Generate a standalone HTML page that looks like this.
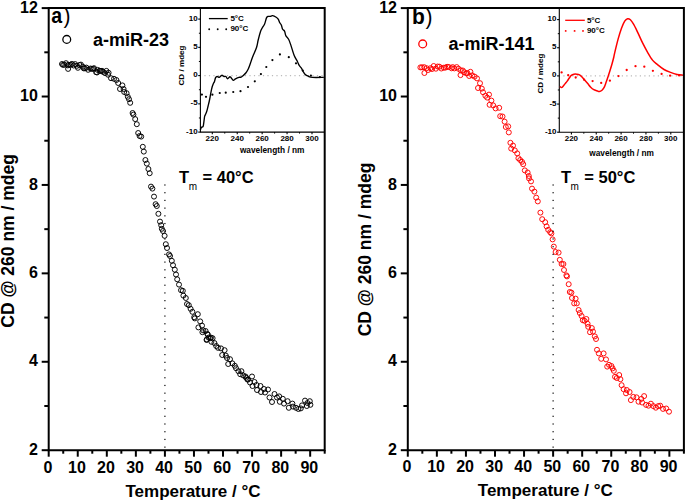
<!DOCTYPE html>
<html><head><meta charset="utf-8"><style>
html,body{margin:0;padding:0;background:#fff;}
svg{display:block;font-family:"Liberation Sans", sans-serif;}
</style></head><body>
<svg width="685" height="500" viewBox="0 0 685 500">
<rect width="685" height="500" fill="#fff"/>
<g fill="none" stroke="#000" stroke-width="0.95">
<circle cx="62.0" cy="64.0" r="2.5"/>
<circle cx="63.0" cy="64.9" r="2.5"/>
<circle cx="64.3" cy="64.7" r="2.5"/>
<circle cx="66.0" cy="63.2" r="2.5"/>
<circle cx="67.8" cy="65.4" r="2.5"/>
<circle cx="68.8" cy="64.8" r="2.5"/>
<circle cx="70.7" cy="64.8" r="2.5"/>
<circle cx="71.9" cy="63.9" r="2.5"/>
<circle cx="73.7" cy="65.5" r="2.5"/>
<circle cx="75.1" cy="64.1" r="2.5"/>
<circle cx="77.0" cy="65.8" r="2.5"/>
<circle cx="77.9" cy="67.8" r="2.5"/>
<circle cx="79.5" cy="65.0" r="2.5"/>
<circle cx="80.9" cy="64.6" r="2.5"/>
<circle cx="82.8" cy="66.7" r="2.5"/>
<circle cx="83.8" cy="68.4" r="2.5"/>
<circle cx="85.0" cy="68.3" r="2.5"/>
<circle cx="86.4" cy="67.6" r="2.5"/>
<circle cx="88.1" cy="69.8" r="2.5"/>
<circle cx="90.5" cy="68.5" r="2.5"/>
<circle cx="91.8" cy="68.9" r="2.5"/>
<circle cx="93.2" cy="68.8" r="2.5"/>
<circle cx="94.0" cy="68.2" r="2.5"/>
<circle cx="96.1" cy="72.2" r="2.5"/>
<circle cx="97.6" cy="69.9" r="2.5"/>
<circle cx="99.6" cy="70.7" r="2.5"/>
<circle cx="100.5" cy="71.0" r="2.5"/>
<circle cx="102.0" cy="70.8" r="2.5"/>
<circle cx="103.1" cy="71.9" r="2.5"/>
<circle cx="105.0" cy="73.1" r="2.5"/>
<circle cx="106.4" cy="70.9" r="2.5"/>
<circle cx="108.0" cy="74.7" r="2.5"/>
<circle cx="68.1" cy="68.9" r="2.5"/>
<circle cx="97.0" cy="72.5" r="2.5"/>
<circle cx="108.6" cy="72.8" r="2.5"/>
<circle cx="111.0" cy="78.2" r="2.5"/>
<circle cx="114.0" cy="78.8" r="2.5"/>
<circle cx="116.4" cy="80.0" r="2.5"/>
<circle cx="118.2" cy="83.0" r="2.5"/>
<circle cx="120.0" cy="89.0" r="2.5"/>
<circle cx="122.4" cy="85.4" r="2.5"/>
<circle cx="123.6" cy="89.0" r="2.5"/>
<circle cx="124.2" cy="92.0" r="2.5"/>
<circle cx="126.6" cy="93.2" r="2.5"/>
<circle cx="127.8" cy="96.8" r="2.5"/>
<circle cx="129.0" cy="99.2" r="2.5"/>
<circle cx="130.2" cy="102.8" r="2.5"/>
<circle cx="132.6" cy="113.0" r="2.5"/>
<circle cx="133.4" cy="114.6" r="2.5"/>
<circle cx="135.2" cy="119.1" r="2.5"/>
<circle cx="136.8" cy="124.2" r="2.5"/>
<circle cx="138.2" cy="133.0" r="2.5"/>
<circle cx="139.6" cy="136.0" r="2.5"/>
<circle cx="141.2" cy="136.6" r="2.5"/>
<circle cx="142.8" cy="146.8" r="2.5"/>
<circle cx="143.8" cy="151.6" r="2.5"/>
<circle cx="145.4" cy="160.0" r="2.5"/>
<circle cx="146.8" cy="163.6" r="2.5"/>
<circle cx="148.4" cy="169.0" r="2.5"/>
<circle cx="149.7" cy="173.2" r="2.5"/>
<circle cx="151.0" cy="186.6" r="2.5"/>
<circle cx="152.4" cy="188.6" r="2.5"/>
<circle cx="154.0" cy="196.6" r="2.5"/>
<circle cx="155.6" cy="204.2" r="2.5"/>
<circle cx="156.8" cy="206.0" r="2.5"/>
<circle cx="158.4" cy="213.8" r="2.5"/>
<circle cx="160.0" cy="221.6" r="2.5"/>
<circle cx="161.2" cy="225.2" r="2.5"/>
<circle cx="161.8" cy="228.8" r="2.5"/>
<circle cx="163.0" cy="231.0" r="2.5"/>
<circle cx="164.6" cy="235.8" r="2.5"/>
<circle cx="165.8" cy="244.2" r="2.5"/>
<circle cx="167.0" cy="248.0" r="2.5"/>
<circle cx="169.0" cy="254.4" r="2.5"/>
<circle cx="170.0" cy="256.0" r="2.5"/>
<circle cx="171.8" cy="260.8" r="2.5"/>
<circle cx="173.0" cy="265.2" r="2.5"/>
<circle cx="174.8" cy="269.7" r="2.5"/>
<circle cx="176.0" cy="274.5" r="2.5"/>
<circle cx="177.2" cy="279.3" r="2.5"/>
<circle cx="179.0" cy="284.6" r="2.5"/>
<circle cx="181.0" cy="290.2" r="2.5"/>
<circle cx="182.8" cy="290.8" r="2.5"/>
<circle cx="183.4" cy="295.6" r="2.5"/>
<circle cx="185.8" cy="298.0" r="2.5"/>
<circle cx="187.0" cy="304.0" r="2.5"/>
<circle cx="188.8" cy="305.2" r="2.5"/>
<circle cx="190.6" cy="308.8" r="2.5"/>
<circle cx="192.4" cy="311.8" r="2.5"/>
<circle cx="194.2" cy="317.2" r="2.5"/>
<circle cx="197.8" cy="314.2" r="2.5"/>
<circle cx="194.8" cy="318.4" r="2.5"/>
<circle cx="200.2" cy="321.4" r="2.5"/>
<circle cx="198.4" cy="327.4" r="2.5"/>
<circle cx="202.0" cy="325.6" r="2.5"/>
<circle cx="203.2" cy="330.4" r="2.5"/>
<circle cx="205.6" cy="331.0" r="2.5"/>
<circle cx="207.4" cy="334.0" r="2.5"/>
<circle cx="208.6" cy="337.6" r="2.5"/>
<circle cx="211.0" cy="337.6" r="2.5"/>
<circle cx="206.8" cy="339.4" r="2.5"/>
<circle cx="202.4" cy="332.2" r="2.5"/>
<circle cx="207.8" cy="334.6" r="2.5"/>
<circle cx="206.6" cy="340.0" r="2.5"/>
<circle cx="210.2" cy="338.2" r="2.5"/>
<circle cx="212.6" cy="338.2" r="2.5"/>
<circle cx="211.4" cy="341.8" r="2.5"/>
<circle cx="214.4" cy="343.0" r="2.5"/>
<circle cx="216.2" cy="346.0" r="2.5"/>
<circle cx="218.0" cy="347.8" r="2.5"/>
<circle cx="221.0" cy="348.4" r="2.5"/>
<circle cx="224.6" cy="350.2" r="2.5"/>
<circle cx="222.2" cy="355.0" r="2.5"/>
<circle cx="225.8" cy="355.6" r="2.5"/>
<circle cx="227.0" cy="358.0" r="2.5"/>
<circle cx="230.0" cy="359.2" r="2.5"/>
<circle cx="228.2" cy="364.0" r="2.5"/>
<circle cx="232.4" cy="363.4" r="2.5"/>
<circle cx="234.8" cy="365.8" r="2.5"/>
<circle cx="236.0" cy="368.2" r="2.5"/>
<circle cx="238.4" cy="371.2" r="2.5"/>
<circle cx="241.4" cy="371.2" r="2.5"/>
<circle cx="240.2" cy="374.2" r="2.5"/>
<circle cx="243.2" cy="375.4" r="2.5"/>
<circle cx="246.2" cy="377.8" r="2.5"/>
<circle cx="248.0" cy="379.6" r="2.5"/>
<circle cx="245.5" cy="376.5" r="2.5"/>
<circle cx="252.0" cy="376.5" r="2.5"/>
<circle cx="247.5" cy="379.5" r="2.5"/>
<circle cx="250.0" cy="382.5" r="2.5"/>
<circle cx="254.5" cy="382.0" r="2.5"/>
<circle cx="252.5" cy="386.0" r="2.5"/>
<circle cx="256.5" cy="385.0" r="2.5"/>
<circle cx="260.5" cy="386.0" r="2.5"/>
<circle cx="257.0" cy="390.0" r="2.5"/>
<circle cx="261.0" cy="392.0" r="2.5"/>
<circle cx="264.0" cy="389.0" r="2.5"/>
<circle cx="268.0" cy="389.5" r="2.5"/>
<circle cx="265.0" cy="392.5" r="2.5"/>
<circle cx="269.5" cy="397.5" r="2.5"/>
<circle cx="274.5" cy="394.0" r="2.5"/>
<circle cx="272.0" cy="402.0" r="2.5"/>
<circle cx="277.0" cy="397.5" r="2.5"/>
<circle cx="279.2" cy="396.4" r="2.5"/>
<circle cx="279.8" cy="401.8" r="2.5"/>
<circle cx="282.8" cy="398.8" r="2.5"/>
<circle cx="284.0" cy="403.6" r="2.5"/>
<circle cx="287.6" cy="401.2" r="2.5"/>
<circle cx="288.8" cy="407.8" r="2.5"/>
<circle cx="292.4" cy="403.6" r="2.5"/>
<circle cx="293.0" cy="406.6" r="2.5"/>
<circle cx="296.0" cy="407.8" r="2.5"/>
<circle cx="298.4" cy="409.0" r="2.5"/>
<circle cx="300.8" cy="408.4" r="2.5"/>
<circle cx="302.0" cy="405.4" r="2.5"/>
<circle cx="305.0" cy="400.6" r="2.5"/>
<circle cx="307.4" cy="403.0" r="2.5"/>
<circle cx="309.8" cy="401.2" r="2.5"/>
<circle cx="310.4" cy="404.8" r="2.5"/>
<circle cx="306.8" cy="406.0" r="2.5"/>
</g>
<g fill="none" stroke="#f00" stroke-width="0.95">
<circle cx="420.4" cy="67.4" r="2.5"/>
<circle cx="422.0" cy="67.3" r="2.5"/>
<circle cx="424.2" cy="67.2" r="2.5"/>
<circle cx="426.6" cy="68.2" r="2.5"/>
<circle cx="428.1" cy="70.0" r="2.5"/>
<circle cx="430.5" cy="68.2" r="2.5"/>
<circle cx="432.0" cy="69.0" r="2.5"/>
<circle cx="433.7" cy="66.0" r="2.5"/>
<circle cx="435.9" cy="68.7" r="2.5"/>
<circle cx="437.7" cy="66.5" r="2.5"/>
<circle cx="439.4" cy="66.7" r="2.5"/>
<circle cx="441.3" cy="68.5" r="2.5"/>
<circle cx="443.8" cy="67.7" r="2.5"/>
<circle cx="445.4" cy="67.6" r="2.5"/>
<circle cx="447.1" cy="66.8" r="2.5"/>
<circle cx="448.8" cy="67.0" r="2.5"/>
<circle cx="451.6" cy="68.3" r="2.5"/>
<circle cx="452.7" cy="67.1" r="2.5"/>
<circle cx="454.4" cy="68.4" r="2.5"/>
<circle cx="456.7" cy="67.1" r="2.5"/>
<circle cx="458.6" cy="68.8" r="2.5"/>
<circle cx="460.8" cy="70.4" r="2.5"/>
<circle cx="462.8" cy="70.5" r="2.5"/>
<circle cx="464.1" cy="72.2" r="2.5"/>
<circle cx="466.4" cy="73.4" r="2.5"/>
<circle cx="424.4" cy="73.0" r="2.5"/>
<circle cx="460.5" cy="75.1" r="2.5"/>
<circle cx="467.4" cy="73.0" r="2.5"/>
<circle cx="470.4" cy="71.8" r="2.5"/>
<circle cx="469.2" cy="76.0" r="2.5"/>
<circle cx="472.2" cy="75.4" r="2.5"/>
<circle cx="474.6" cy="76.6" r="2.5"/>
<circle cx="477.0" cy="78.4" r="2.5"/>
<circle cx="480.0" cy="83.2" r="2.5"/>
<circle cx="478.0" cy="88.0" r="2.5"/>
<circle cx="481.8" cy="88.6" r="2.5"/>
<circle cx="483.0" cy="92.2" r="2.5"/>
<circle cx="485.4" cy="95.8" r="2.5"/>
<circle cx="489.0" cy="94.6" r="2.5"/>
<circle cx="487.2" cy="97.6" r="2.5"/>
<circle cx="491.4" cy="100.6" r="2.5"/>
<circle cx="489.6" cy="104.8" r="2.5"/>
<circle cx="493.2" cy="105.4" r="2.5"/>
<circle cx="495.6" cy="108.4" r="2.5"/>
<circle cx="499.2" cy="107.8" r="2.5"/>
<circle cx="500.2" cy="116.2" r="2.5"/>
<circle cx="502.5" cy="116.5" r="2.5"/>
<circle cx="504.6" cy="121.6" r="2.5"/>
<circle cx="505.8" cy="127.0" r="2.5"/>
<circle cx="508.2" cy="126.4" r="2.5"/>
<circle cx="508.8" cy="132.4" r="2.5"/>
<circle cx="510.4" cy="142.8" r="2.5"/>
<circle cx="513.0" cy="145.6" r="2.5"/>
<circle cx="511.2" cy="148.6" r="2.5"/>
<circle cx="514.8" cy="150.4" r="2.5"/>
<circle cx="517.2" cy="153.4" r="2.5"/>
<circle cx="518.4" cy="158.2" r="2.5"/>
<circle cx="520.2" cy="160.0" r="2.5"/>
<circle cx="522.0" cy="161.8" r="2.5"/>
<circle cx="523.2" cy="164.2" r="2.5"/>
<circle cx="524.8" cy="170.4" r="2.5"/>
<circle cx="527.6" cy="172.5" r="2.5"/>
<circle cx="528.8" cy="176.0" r="2.5"/>
<circle cx="529.0" cy="178.4" r="2.5"/>
<circle cx="531.0" cy="181.4" r="2.5"/>
<circle cx="532.0" cy="188.6" r="2.5"/>
<circle cx="534.4" cy="191.6" r="2.5"/>
<circle cx="536.2" cy="197.6" r="2.5"/>
<circle cx="537.8" cy="201.4" r="2.5"/>
<circle cx="540.4" cy="212.6" r="2.5"/>
<circle cx="542.2" cy="219.2" r="2.5"/>
<circle cx="545.2" cy="222.2" r="2.5"/>
<circle cx="546.6" cy="226.4" r="2.5"/>
<circle cx="548.2" cy="229.8" r="2.5"/>
<circle cx="550.2" cy="232.2" r="2.5"/>
<circle cx="551.4" cy="233.4" r="2.5"/>
<circle cx="552.6" cy="239.4" r="2.5"/>
<circle cx="553.8" cy="246.6" r="2.5"/>
<circle cx="555.6" cy="252.0" r="2.5"/>
<circle cx="558.6" cy="252.6" r="2.5"/>
<circle cx="559.8" cy="259.8" r="2.5"/>
<circle cx="561.6" cy="264.0" r="2.5"/>
<circle cx="563.4" cy="264.0" r="2.5"/>
<circle cx="564.0" cy="270.0" r="2.5"/>
<circle cx="566.4" cy="275.4" r="2.5"/>
<circle cx="567.0" cy="276.4" r="2.5"/>
<circle cx="568.7" cy="284.2" r="2.5"/>
<circle cx="569.8" cy="292.0" r="2.5"/>
<circle cx="571.4" cy="292.6" r="2.5"/>
<circle cx="572.0" cy="298.0" r="2.5"/>
<circle cx="575.6" cy="298.6" r="2.5"/>
<circle cx="574.2" cy="303.4" r="2.5"/>
<circle cx="576.8" cy="303.4" r="2.5"/>
<circle cx="578.6" cy="310.0" r="2.5"/>
<circle cx="579.8" cy="313.0" r="2.5"/>
<circle cx="581.6" cy="316.0" r="2.5"/>
<circle cx="582.8" cy="320.2" r="2.5"/>
<circle cx="586.4" cy="319.0" r="2.5"/>
<circle cx="584.6" cy="320.8" r="2.5"/>
<circle cx="587.6" cy="323.8" r="2.5"/>
<circle cx="588.2" cy="326.8" r="2.5"/>
<circle cx="591.8" cy="328.0" r="2.5"/>
<circle cx="590.0" cy="332.2" r="2.5"/>
<circle cx="593.0" cy="331.6" r="2.5"/>
<circle cx="594.8" cy="336.4" r="2.5"/>
<circle cx="596.0" cy="339.0" r="2.5"/>
<circle cx="597.0" cy="349.8" r="2.5"/>
<circle cx="598.8" cy="353.4" r="2.5"/>
<circle cx="603.6" cy="353.4" r="2.5"/>
<circle cx="601.2" cy="358.8" r="2.5"/>
<circle cx="606.0" cy="359.4" r="2.5"/>
<circle cx="607.2" cy="366.6" r="2.5"/>
<circle cx="609.0" cy="364.8" r="2.5"/>
<circle cx="611.4" cy="366.0" r="2.5"/>
<circle cx="612.6" cy="368.4" r="2.5"/>
<circle cx="613.8" cy="370.8" r="2.5"/>
<circle cx="615.0" cy="376.8" r="2.5"/>
<circle cx="616.8" cy="378.0" r="2.5"/>
<circle cx="619.2" cy="375.0" r="2.5"/>
<circle cx="620.4" cy="379.2" r="2.5"/>
<circle cx="621.6" cy="385.2" r="2.5"/>
<circle cx="623.6" cy="389.2" r="2.5"/>
<circle cx="626.8" cy="390.0" r="2.5"/>
<circle cx="626.0" cy="393.3" r="2.5"/>
<circle cx="629.6" cy="392.0" r="2.5"/>
<circle cx="630.9" cy="400.1" r="2.5"/>
<circle cx="633.3" cy="396.9" r="2.5"/>
<circle cx="636.5" cy="397.3" r="2.5"/>
<circle cx="638.5" cy="401.7" r="2.5"/>
<circle cx="641.3" cy="398.9" r="2.5"/>
<circle cx="644.1" cy="396.1" r="2.5"/>
<circle cx="642.1" cy="402.5" r="2.5"/>
<circle cx="646.1" cy="404.9" r="2.5"/>
<circle cx="648.5" cy="405.7" r="2.5"/>
<circle cx="650.9" cy="403.7" r="2.5"/>
<circle cx="653.3" cy="406.1" r="2.5"/>
<circle cx="655.8" cy="407.7" r="2.5"/>
<circle cx="658.2" cy="406.1" r="2.5"/>
<circle cx="660.2" cy="405.7" r="2.5"/>
<circle cx="663.0" cy="408.9" r="2.5"/>
<circle cx="666.2" cy="408.5" r="2.5"/>
<circle cx="669.0" cy="411.7" r="2.5"/>
</g>
<g fill="#000">
<rect x="164.31" y="184.40" width="1.2" height="1.2"/>
<rect x="164.31" y="192.11" width="1.2" height="1.2"/>
<rect x="164.31" y="199.82" width="1.2" height="1.2"/>
<rect x="164.31" y="207.53" width="1.2" height="1.2"/>
<rect x="164.31" y="215.24" width="1.2" height="1.2"/>
<rect x="164.31" y="222.95" width="1.2" height="1.2"/>
<rect x="164.31" y="230.66" width="1.2" height="1.2"/>
<rect x="164.31" y="238.37" width="1.2" height="1.2"/>
<rect x="164.31" y="246.08" width="1.2" height="1.2"/>
<rect x="164.31" y="253.79" width="1.2" height="1.2"/>
<rect x="164.31" y="261.50" width="1.2" height="1.2"/>
<rect x="164.31" y="269.21" width="1.2" height="1.2"/>
<rect x="164.31" y="276.92" width="1.2" height="1.2"/>
<rect x="164.31" y="284.63" width="1.2" height="1.2"/>
<rect x="164.31" y="292.34" width="1.2" height="1.2"/>
<rect x="164.31" y="300.05" width="1.2" height="1.2"/>
<rect x="164.31" y="307.76" width="1.2" height="1.2"/>
<rect x="164.31" y="315.47" width="1.2" height="1.2"/>
<rect x="164.31" y="323.18" width="1.2" height="1.2"/>
<rect x="164.31" y="330.89" width="1.2" height="1.2"/>
<rect x="164.31" y="338.60" width="1.2" height="1.2"/>
<rect x="164.31" y="346.31" width="1.2" height="1.2"/>
<rect x="164.31" y="354.02" width="1.2" height="1.2"/>
<rect x="164.31" y="361.73" width="1.2" height="1.2"/>
<rect x="164.31" y="369.44" width="1.2" height="1.2"/>
<rect x="164.31" y="377.15" width="1.2" height="1.2"/>
<rect x="164.31" y="384.86" width="1.2" height="1.2"/>
<rect x="164.31" y="392.57" width="1.2" height="1.2"/>
<rect x="164.31" y="400.28" width="1.2" height="1.2"/>
<rect x="164.31" y="407.99" width="1.2" height="1.2"/>
<rect x="164.31" y="415.70" width="1.2" height="1.2"/>
<rect x="164.31" y="423.41" width="1.2" height="1.2"/>
<rect x="164.31" y="431.12" width="1.2" height="1.2"/>
<rect x="164.31" y="438.83" width="1.2" height="1.2"/>
<rect x="164.31" y="446.54" width="1.2" height="1.2"/>
</g>
<g fill="#000">
<rect x="552.52" y="184.40" width="1.2" height="1.2"/>
<rect x="552.52" y="192.11" width="1.2" height="1.2"/>
<rect x="552.52" y="199.82" width="1.2" height="1.2"/>
<rect x="552.52" y="207.53" width="1.2" height="1.2"/>
<rect x="552.52" y="215.24" width="1.2" height="1.2"/>
<rect x="552.52" y="222.95" width="1.2" height="1.2"/>
<rect x="552.52" y="230.66" width="1.2" height="1.2"/>
<rect x="552.52" y="238.37" width="1.2" height="1.2"/>
<rect x="552.52" y="246.08" width="1.2" height="1.2"/>
<rect x="552.52" y="253.79" width="1.2" height="1.2"/>
<rect x="552.52" y="261.50" width="1.2" height="1.2"/>
<rect x="552.52" y="269.21" width="1.2" height="1.2"/>
<rect x="552.52" y="276.92" width="1.2" height="1.2"/>
<rect x="552.52" y="284.63" width="1.2" height="1.2"/>
<rect x="552.52" y="292.34" width="1.2" height="1.2"/>
<rect x="552.52" y="300.05" width="1.2" height="1.2"/>
<rect x="552.52" y="307.76" width="1.2" height="1.2"/>
<rect x="552.52" y="315.47" width="1.2" height="1.2"/>
<rect x="552.52" y="323.18" width="1.2" height="1.2"/>
<rect x="552.52" y="330.89" width="1.2" height="1.2"/>
<rect x="552.52" y="338.60" width="1.2" height="1.2"/>
<rect x="552.52" y="346.31" width="1.2" height="1.2"/>
<rect x="552.52" y="354.02" width="1.2" height="1.2"/>
<rect x="552.52" y="361.73" width="1.2" height="1.2"/>
<rect x="552.52" y="369.44" width="1.2" height="1.2"/>
<rect x="552.52" y="377.15" width="1.2" height="1.2"/>
<rect x="552.52" y="384.86" width="1.2" height="1.2"/>
<rect x="552.52" y="392.57" width="1.2" height="1.2"/>
<rect x="552.52" y="400.28" width="1.2" height="1.2"/>
<rect x="552.52" y="407.99" width="1.2" height="1.2"/>
<rect x="552.52" y="415.70" width="1.2" height="1.2"/>
<rect x="552.52" y="423.41" width="1.2" height="1.2"/>
<rect x="552.52" y="431.12" width="1.2" height="1.2"/>
<rect x="552.52" y="438.83" width="1.2" height="1.2"/>
<rect x="552.52" y="446.54" width="1.2" height="1.2"/>
</g>
<rect x="200.4" y="8.1" width="123.6" height="124" fill="#fff"/>
<line x1="204.4" y1="75.6" x2="324" y2="75.6" stroke="#bbb" stroke-width="1.1" stroke-dasharray="1.2 3.3"/>
<path d="M200.4 8.1V132.1H324" fill="none" stroke="#000" stroke-width="1.1"/>
<line x1="198.2" y1="132.1" x2="200.4" y2="132.1" stroke="#000" stroke-width="1.1" />
<text x="197.6" y="133.6" font-size="8" font-weight="bold" text-anchor="end" fill="#000" >-10</text>
<line x1="198.2" y1="103.85" x2="200.4" y2="103.85" stroke="#000" stroke-width="1.1" />
<text x="197.6" y="105.35" font-size="8" font-weight="bold" text-anchor="end" fill="#000" >-5</text>
<line x1="198.2" y1="75.6" x2="200.4" y2="75.6" stroke="#000" stroke-width="1.1" />
<text x="197.6" y="77.1" font-size="8" font-weight="bold" text-anchor="end" fill="#000" >0</text>
<line x1="198.2" y1="47.35" x2="200.4" y2="47.35" stroke="#000" stroke-width="1.1" />
<text x="197.6" y="48.85" font-size="8" font-weight="bold" text-anchor="end" fill="#000" >5</text>
<line x1="198.2" y1="19.1" x2="200.4" y2="19.1" stroke="#000" stroke-width="1.1" />
<text x="197.6" y="20.6" font-size="8" font-weight="bold" text-anchor="end" fill="#000" >10</text>
<line x1="198.9" y1="117.97" x2="200.4" y2="117.97" stroke="#000" stroke-width="1" />
<line x1="198.9" y1="89.72" x2="200.4" y2="89.72" stroke="#000" stroke-width="1" />
<line x1="198.9" y1="61.47" x2="200.4" y2="61.47" stroke="#000" stroke-width="1" />
<line x1="198.9" y1="33.22" x2="200.4" y2="33.22" stroke="#000" stroke-width="1" />
<line x1="212.3" y1="132.1" x2="212.3" y2="134.3" stroke="#000" stroke-width="1.1" />
<text x="212.3" y="140.8" font-size="8" font-weight="bold" text-anchor="middle" fill="#000" >220</text>
<line x1="237.23" y1="132.1" x2="237.23" y2="134.3" stroke="#000" stroke-width="1.1" />
<text x="237.23" y="140.8" font-size="8" font-weight="bold" text-anchor="middle" fill="#000" >240</text>
<line x1="262.15" y1="132.1" x2="262.15" y2="134.3" stroke="#000" stroke-width="1.1" />
<text x="262.15" y="140.8" font-size="8" font-weight="bold" text-anchor="middle" fill="#000" >260</text>
<line x1="287.07" y1="132.1" x2="287.07" y2="134.3" stroke="#000" stroke-width="1.1" />
<text x="287.07" y="140.8" font-size="8" font-weight="bold" text-anchor="middle" fill="#000" >280</text>
<line x1="312" y1="132.1" x2="312" y2="134.3" stroke="#000" stroke-width="1.1" />
<text x="312" y="140.8" font-size="8" font-weight="bold" text-anchor="middle" fill="#000" >300</text>
<line x1="224.76" y1="132.1" x2="224.76" y2="133.6" stroke="#000" stroke-width="1" />
<line x1="249.69" y1="132.1" x2="249.69" y2="133.6" stroke="#000" stroke-width="1" />
<line x1="274.61" y1="132.1" x2="274.61" y2="133.6" stroke="#000" stroke-width="1" />
<line x1="299.54" y1="132.1" x2="299.54" y2="133.6" stroke="#000" stroke-width="1" />
<line x1="208.9" y1="18.6" x2="227.7" y2="18.6" stroke="#000" stroke-width="1.3" />
<text x="230.4" y="21" font-size="8" font-weight="bold" text-anchor="start" fill="#000" >5°C</text>
<text x="230.4" y="31.3" font-size="8" font-weight="bold" text-anchor="start" fill="#000" >90°C</text>
<circle cx="209.2" cy="29.3" r="0.95" fill="#000"/>
<circle cx="217.7" cy="29.3" r="0.95" fill="#000"/>
<circle cx="226.2" cy="29.3" r="0.95" fill="#000"/>
<text transform="translate(184.1,85.5) rotate(-90)" font-size="8.1" font-weight="bold">CD / mdeg</text>
<text x="239.9" y="152.5" font-size="8.3" font-weight="bold" text-anchor="start" fill="#000" >wavelength / nm</text>
<rect x="559.3" y="8.1" width="123.7" height="124.1" fill="#fff"/>
<line x1="563.3" y1="75.9" x2="683" y2="75.9" stroke="#bbb" stroke-width="1.1" stroke-dasharray="1.2 3.3"/>
<path d="M559.3 8.1V132.2H683" fill="none" stroke="#000" stroke-width="1.1"/>
<line x1="557.1" y1="132.2" x2="559.3" y2="132.2" stroke="#000" stroke-width="1.1" />
<text x="556.5" y="133.7" font-size="8" font-weight="bold" text-anchor="end" fill="#000" >-10</text>
<line x1="557.1" y1="104.05" x2="559.3" y2="104.05" stroke="#000" stroke-width="1.1" />
<text x="556.5" y="105.55" font-size="8" font-weight="bold" text-anchor="end" fill="#000" >-5</text>
<line x1="557.1" y1="75.9" x2="559.3" y2="75.9" stroke="#000" stroke-width="1.1" />
<text x="556.5" y="77.4" font-size="8" font-weight="bold" text-anchor="end" fill="#000" >0</text>
<line x1="557.1" y1="47.75" x2="559.3" y2="47.75" stroke="#000" stroke-width="1.1" />
<text x="556.5" y="49.25" font-size="8" font-weight="bold" text-anchor="end" fill="#000" >5</text>
<line x1="557.1" y1="19.6" x2="559.3" y2="19.6" stroke="#000" stroke-width="1.1" />
<text x="556.5" y="21.1" font-size="8" font-weight="bold" text-anchor="end" fill="#000" >10</text>
<line x1="557.8" y1="118.12" x2="559.3" y2="118.12" stroke="#000" stroke-width="1" />
<line x1="557.8" y1="89.97" x2="559.3" y2="89.97" stroke="#000" stroke-width="1" />
<line x1="557.8" y1="61.83" x2="559.3" y2="61.83" stroke="#000" stroke-width="1" />
<line x1="557.8" y1="33.68" x2="559.3" y2="33.68" stroke="#000" stroke-width="1" />
<line x1="571.4" y1="132.2" x2="571.4" y2="134.4" stroke="#000" stroke-width="1.1" />
<text x="571.4" y="141" font-size="8" font-weight="bold" text-anchor="middle" fill="#000" >220</text>
<line x1="596.25" y1="132.2" x2="596.25" y2="134.4" stroke="#000" stroke-width="1.1" />
<text x="596.25" y="141" font-size="8" font-weight="bold" text-anchor="middle" fill="#000" >240</text>
<line x1="621.1" y1="132.2" x2="621.1" y2="134.4" stroke="#000" stroke-width="1.1" />
<text x="621.1" y="141" font-size="8" font-weight="bold" text-anchor="middle" fill="#000" >260</text>
<line x1="645.95" y1="132.2" x2="645.95" y2="134.4" stroke="#000" stroke-width="1.1" />
<text x="645.95" y="141" font-size="8" font-weight="bold" text-anchor="middle" fill="#000" >280</text>
<line x1="670.8" y1="132.2" x2="670.8" y2="134.4" stroke="#000" stroke-width="1.1" />
<text x="670.8" y="141" font-size="8" font-weight="bold" text-anchor="middle" fill="#000" >300</text>
<line x1="583.82" y1="132.2" x2="583.82" y2="133.7" stroke="#000" stroke-width="1" />
<line x1="608.67" y1="132.2" x2="608.67" y2="133.7" stroke="#000" stroke-width="1" />
<line x1="633.52" y1="132.2" x2="633.52" y2="133.7" stroke="#000" stroke-width="1" />
<line x1="658.38" y1="132.2" x2="658.38" y2="133.7" stroke="#000" stroke-width="1" />
<line x1="565.2" y1="20.3" x2="584.8" y2="20.3" stroke="#f00" stroke-width="1.3" />
<text x="586.9" y="22.6" font-size="8" font-weight="bold" text-anchor="start" fill="#000" >5°C</text>
<text x="586.9" y="33" font-size="8" font-weight="bold" text-anchor="start" fill="#000" >90°C</text>
<circle cx="565.7" cy="30.9" r="0.95" fill="#f00"/>
<circle cx="574.6" cy="30.9" r="0.95" fill="#f00"/>
<circle cx="583" cy="30.9" r="0.95" fill="#f00"/>
<text transform="translate(542.5,93.6) rotate(-90)" font-size="8.1" font-weight="bold">CD / mdeg</text>
<text x="589.3" y="155.8" font-size="8.3" font-weight="bold" text-anchor="start" fill="#000" >wavelength / nm</text>
<path d="M200.3 130.2C200.48 129.72 200.95 127.88 201.4 127.3C201.85 126.72 202.63 127.27 203 126.7C203.37 126.13 203.4 125.12 203.6 123.9C203.8 122.68 204.02 120.7 204.2 119.4C204.38 118.1 204.43 117.03 204.7 116.1C204.97 115.17 205.42 114.73 205.8 113.8C206.18 112.87 206.62 111.8 207 110.5C207.38 109.2 207.73 107.5 208.1 106C208.47 104.5 208.87 103 209.2 101.5C209.53 100 209.82 98.48 210.1 97C210.38 95.52 210.58 94.18 210.9 92.6C211.22 91.02 211.6 88.97 212 87.5C212.4 86.03 212.88 84.82 213.3 83.8C213.72 82.78 214.12 82.43 214.5 81.4C214.88 80.37 215.17 78.42 215.6 77.6C216.03 76.78 216.47 76.55 217.1 76.5C217.73 76.45 218.62 77.5 219.4 77.3C220.18 77.1 221.02 75.43 221.8 75.3C222.58 75.17 223.42 76.3 224.1 76.5C224.78 76.7 225.32 76.12 225.9 76.5C226.48 76.88 226.88 78.75 227.6 78.8C228.32 78.85 229.27 76.55 230.2 76.8C231.13 77.05 232.32 79.97 233.2 80.3C234.08 80.63 234.53 79.3 235.5 78.8C236.47 78.3 238.12 77.56 239 77.3C239.88 77.04 240.08 77.51 240.75 77.25C241.42 76.99 242.12 76.5 243 75.75C243.88 75 245.12 73.88 246 72.75C246.88 71.62 247.58 70.38 248.25 69C248.92 67.62 249.46 66 250 64.5C250.54 63 250.97 61.5 251.5 60C252.03 58.5 252.35 57.63 253.2 55.5C254.05 53.37 255.77 49.78 256.6 47.2C257.43 44.62 257.53 42.67 258.2 40C258.87 37.33 259.93 33.2 260.6 31.2C261.27 29.2 261.53 29.2 262.2 28C262.87 26.8 263.87 25.73 264.6 24C265.33 22.27 266 18.87 266.6 17.6C267.2 16.33 267.6 16.6 268.2 16.4C268.8 16.2 269.47 16.53 270.2 16.4C270.93 16.27 271.6 15.47 272.6 15.6C273.6 15.73 275.27 16.6 276.2 17.2C277.13 17.8 277.6 18.27 278.2 19.2C278.8 20.13 279.27 21.8 279.8 22.8C280.33 23.8 280.93 24.13 281.4 25.2C281.87 26.27 282.07 28.2 282.6 29.2C283.13 30.2 284.07 30.13 284.6 31.2C285.13 32.27 285.13 34.27 285.8 35.6C286.47 36.93 287.73 37.53 288.6 39.2C289.47 40.87 290.07 42.88 291 45.6C291.93 48.32 293.13 52.85 294.2 55.5C295.27 58.15 296.57 59.85 297.4 61.5C298.23 63.15 298.5 64.25 299.2 65.4C299.9 66.55 301 67.47 301.6 68.4C302.2 69.33 302.2 70 302.8 71C303.4 72 304.3 73.53 305.2 74.4C306.1 75.27 307 75.7 308.2 76.2C309.4 76.7 309.8 77.2 312.4 77.4C315 77.6 321.9 77.4 323.8 77.4" fill="none" stroke="#000" stroke-width="1.35" stroke-linejoin="round"/>
<circle cx="201.9" cy="94.6" r="1.1" fill="#000"/>
<circle cx="206" cy="96.8" r="1.1" fill="#000"/>
<circle cx="212.4" cy="94.7" r="1.1" fill="#000"/>
<circle cx="219.75" cy="93" r="1.1" fill="#000"/>
<circle cx="225.75" cy="92.7" r="1.1" fill="#000"/>
<circle cx="233.25" cy="92" r="1.1" fill="#000"/>
<circle cx="240.5" cy="91.2" r="1.1" fill="#000"/>
<circle cx="248" cy="87" r="1.1" fill="#000"/>
<circle cx="254.8" cy="81.3" r="1.1" fill="#000"/>
<circle cx="260.9" cy="74.1" r="1.1" fill="#000"/>
<circle cx="266.3" cy="67" r="1.1" fill="#000"/>
<circle cx="272.4" cy="60.1" r="1.1" fill="#000"/>
<circle cx="279.9" cy="54.4" r="1.1" fill="#000"/>
<circle cx="288.8" cy="57.2" r="1.1" fill="#000"/>
<circle cx="296" cy="63.3" r="1.1" fill="#000"/>
<circle cx="302.8" cy="70.5" r="1.1" fill="#000"/>
<circle cx="310.9" cy="75.6" r="1.1" fill="#000"/>
<circle cx="319.9" cy="77.1" r="1.1" fill="#000"/>
<path d="M559.8 86.5C560.1 86.67 561.05 87.55 561.6 87.5C562.15 87.45 562.5 86.85 563.1 86.2C563.7 85.55 564.52 84.45 565.2 83.6C565.88 82.75 566.52 82.03 567.2 81.1C567.88 80.17 568.62 78.95 569.3 78C569.98 77.05 570.53 76.03 571.3 75.4C572.07 74.77 572.97 74.4 573.9 74.2C574.83 74 575.97 74.08 576.9 74.2C577.83 74.32 578.65 74.43 579.5 74.9C580.35 75.37 581.15 76.15 582 77C582.85 77.85 583.65 78.9 584.6 80C585.55 81.1 586.68 82.4 587.7 83.6C588.72 84.8 589.68 86.18 590.7 87.2C591.72 88.22 592.77 89.1 593.8 89.7C594.83 90.3 595.97 90.48 596.9 90.8C597.83 91.12 598.55 91.68 599.4 91.6C600.25 91.52 601.23 90.95 602 90.3C602.77 89.65 603.33 88.98 604 87.7C604.67 86.42 605.32 84.47 606 82.6C606.68 80.73 607.42 78.55 608.1 76.5C608.78 74.45 609.42 72.52 610.1 70.3C610.78 68.08 611.6 65.33 612.2 63.2C612.8 61.07 613.27 59.32 613.7 57.5C614.13 55.68 614.07 55.37 614.8 52.3C615.53 49.23 617 43.07 618.1 39.1C619.2 35.13 620.3 31.5 621.4 28.5C622.5 25.5 623.67 22.73 624.7 21.1C625.73 19.47 626.65 18.92 627.6 18.7C628.55 18.48 629.38 18.85 630.4 19.8C631.42 20.75 632.47 22.27 633.7 24.4C634.93 26.53 636.3 29.47 637.8 32.6C639.3 35.73 641.07 39.92 642.7 43.2C644.33 46.48 645.97 49.48 647.6 52.3C649.23 55.12 650.85 58.05 652.5 60.1C654.15 62.15 655.58 63.03 657.5 64.6C659.42 66.17 661.82 68.2 664 69.5C666.18 70.8 668.42 71.58 670.6 72.4C672.78 73.22 675.05 73.93 677.1 74.4C679.15 74.87 681.93 75.07 682.9 75.2" fill="none" stroke="#f00" stroke-width="1.5" stroke-linejoin="round"/>
<circle cx="561.6" cy="72.4" r="1.15" fill="#f00"/>
<circle cx="568.2" cy="75.2" r="1.15" fill="#f00"/>
<circle cx="575.7" cy="77.5" r="1.15" fill="#f00"/>
<circle cx="584.1" cy="79.7" r="1.15" fill="#f00"/>
<circle cx="592.6" cy="81.1" r="1.15" fill="#f00"/>
<circle cx="601.2" cy="82.9" r="1.15" fill="#f00"/>
<circle cx="609.9" cy="80.7" r="1.15" fill="#f00"/>
<circle cx="618.5" cy="76.1" r="1.15" fill="#f00"/>
<circle cx="626.7" cy="70" r="1.15" fill="#f00"/>
<circle cx="635.5" cy="66.2" r="1.15" fill="#f00"/>
<circle cx="644.3" cy="66.7" r="1.15" fill="#f00"/>
<circle cx="652.9" cy="70.8" r="1.15" fill="#f00"/>
<circle cx="661.6" cy="73.9" r="1.15" fill="#f00"/>
<circle cx="670.1" cy="75.7" r="1.15" fill="#f00"/>
<circle cx="679.1" cy="75.4" r="1.15" fill="#f00"/>
<path d="M48.7 450.2V8.1H324.7V450.2Z" fill="none" stroke="#000" stroke-width="2"/>
<line x1="41.7" y1="450.2" x2="48.7" y2="450.2" stroke="#000" stroke-width="2" />
<text x="37.9" y="454.8" font-size="16" font-weight="bold" text-anchor="end" fill="#000" >2</text>
<line x1="44.3" y1="405.99" x2="48.7" y2="405.99" stroke="#000" stroke-width="2" />
<line x1="41.7" y1="361.78" x2="48.7" y2="361.78" stroke="#000" stroke-width="2" />
<text x="37.9" y="366.38" font-size="16" font-weight="bold" text-anchor="end" fill="#000" >4</text>
<line x1="44.3" y1="317.57" x2="48.7" y2="317.57" stroke="#000" stroke-width="2" />
<line x1="41.7" y1="273.36" x2="48.7" y2="273.36" stroke="#000" stroke-width="2" />
<text x="37.9" y="277.96" font-size="16" font-weight="bold" text-anchor="end" fill="#000" >6</text>
<line x1="44.3" y1="229.15" x2="48.7" y2="229.15" stroke="#000" stroke-width="2" />
<line x1="41.7" y1="184.94" x2="48.7" y2="184.94" stroke="#000" stroke-width="2" />
<text x="37.9" y="189.54" font-size="16" font-weight="bold" text-anchor="end" fill="#000" >8</text>
<line x1="44.3" y1="140.73" x2="48.7" y2="140.73" stroke="#000" stroke-width="2" />
<line x1="41.7" y1="96.52" x2="48.7" y2="96.52" stroke="#000" stroke-width="2" />
<text x="37.9" y="101.12" font-size="16" font-weight="bold" text-anchor="end" fill="#000" >10</text>
<line x1="44.3" y1="52.31" x2="48.7" y2="52.31" stroke="#000" stroke-width="2" />
<line x1="41.7" y1="8.1" x2="48.7" y2="8.1" stroke="#000" stroke-width="2" />
<text x="37.9" y="12.7" font-size="16" font-weight="bold" text-anchor="end" fill="#000" >12</text>
<line x1="48.7" y1="450.2" x2="48.7" y2="456.7" stroke="#000" stroke-width="2" />
<text x="47.9" y="472.9" font-size="16" font-weight="bold" text-anchor="middle" fill="#000" >0</text>
<line x1="63.23" y1="450.2" x2="63.23" y2="453.7" stroke="#000" stroke-width="2" />
<line x1="77.75" y1="450.2" x2="77.75" y2="456.7" stroke="#000" stroke-width="2" />
<text x="76.95" y="472.9" font-size="16" font-weight="bold" text-anchor="middle" fill="#000" >10</text>
<line x1="92.28" y1="450.2" x2="92.28" y2="453.7" stroke="#000" stroke-width="2" />
<line x1="106.81" y1="450.2" x2="106.81" y2="456.7" stroke="#000" stroke-width="2" />
<text x="106.01" y="472.9" font-size="16" font-weight="bold" text-anchor="middle" fill="#000" >20</text>
<line x1="121.33" y1="450.2" x2="121.33" y2="453.7" stroke="#000" stroke-width="2" />
<line x1="135.86" y1="450.2" x2="135.86" y2="456.7" stroke="#000" stroke-width="2" />
<text x="135.06" y="472.9" font-size="16" font-weight="bold" text-anchor="middle" fill="#000" >30</text>
<line x1="150.38" y1="450.2" x2="150.38" y2="453.7" stroke="#000" stroke-width="2" />
<line x1="164.91" y1="450.2" x2="164.91" y2="456.7" stroke="#000" stroke-width="2" />
<text x="164.11" y="472.9" font-size="16" font-weight="bold" text-anchor="middle" fill="#000" >40</text>
<line x1="179.44" y1="450.2" x2="179.44" y2="453.7" stroke="#000" stroke-width="2" />
<line x1="193.96" y1="450.2" x2="193.96" y2="456.7" stroke="#000" stroke-width="2" />
<text x="193.16" y="472.9" font-size="16" font-weight="bold" text-anchor="middle" fill="#000" >50</text>
<line x1="208.49" y1="450.2" x2="208.49" y2="453.7" stroke="#000" stroke-width="2" />
<line x1="223.02" y1="450.2" x2="223.02" y2="456.7" stroke="#000" stroke-width="2" />
<text x="222.22" y="472.9" font-size="16" font-weight="bold" text-anchor="middle" fill="#000" >60</text>
<line x1="237.54" y1="450.2" x2="237.54" y2="453.7" stroke="#000" stroke-width="2" />
<line x1="252.07" y1="450.2" x2="252.07" y2="456.7" stroke="#000" stroke-width="2" />
<text x="251.27" y="472.9" font-size="16" font-weight="bold" text-anchor="middle" fill="#000" >70</text>
<line x1="266.59" y1="450.2" x2="266.59" y2="453.7" stroke="#000" stroke-width="2" />
<line x1="281.12" y1="450.2" x2="281.12" y2="456.7" stroke="#000" stroke-width="2" />
<text x="280.32" y="472.9" font-size="16" font-weight="bold" text-anchor="middle" fill="#000" >80</text>
<line x1="295.65" y1="450.2" x2="295.65" y2="453.7" stroke="#000" stroke-width="2" />
<line x1="310.17" y1="450.2" x2="310.17" y2="456.7" stroke="#000" stroke-width="2" />
<text x="309.37" y="472.9" font-size="16" font-weight="bold" text-anchor="middle" fill="#000" >90</text>
<line x1="324.7" y1="450.2" x2="324.7" y2="453.7" stroke="#000" stroke-width="2" />
<path d="M407.8 450.2V8.1H683.9V450.2Z" fill="none" stroke="#000" stroke-width="2"/>
<line x1="400.8" y1="450.2" x2="407.8" y2="450.2" stroke="#000" stroke-width="2" />
<text x="397" y="454.8" font-size="16" font-weight="bold" text-anchor="end" fill="#000" >2</text>
<line x1="403.4" y1="405.99" x2="407.8" y2="405.99" stroke="#000" stroke-width="2" />
<line x1="400.8" y1="361.78" x2="407.8" y2="361.78" stroke="#000" stroke-width="2" />
<text x="397" y="366.38" font-size="16" font-weight="bold" text-anchor="end" fill="#000" >4</text>
<line x1="403.4" y1="317.57" x2="407.8" y2="317.57" stroke="#000" stroke-width="2" />
<line x1="400.8" y1="273.36" x2="407.8" y2="273.36" stroke="#000" stroke-width="2" />
<text x="397" y="277.96" font-size="16" font-weight="bold" text-anchor="end" fill="#000" >6</text>
<line x1="403.4" y1="229.15" x2="407.8" y2="229.15" stroke="#000" stroke-width="2" />
<line x1="400.8" y1="184.94" x2="407.8" y2="184.94" stroke="#000" stroke-width="2" />
<text x="397" y="189.54" font-size="16" font-weight="bold" text-anchor="end" fill="#000" >8</text>
<line x1="403.4" y1="140.73" x2="407.8" y2="140.73" stroke="#000" stroke-width="2" />
<line x1="400.8" y1="96.52" x2="407.8" y2="96.52" stroke="#000" stroke-width="2" />
<text x="397" y="101.12" font-size="16" font-weight="bold" text-anchor="end" fill="#000" >10</text>
<line x1="403.4" y1="52.31" x2="407.8" y2="52.31" stroke="#000" stroke-width="2" />
<line x1="400.8" y1="8.1" x2="407.8" y2="8.1" stroke="#000" stroke-width="2" />
<text x="397" y="12.7" font-size="16" font-weight="bold" text-anchor="end" fill="#000" >12</text>
<line x1="407.8" y1="450.2" x2="407.8" y2="456.7" stroke="#000" stroke-width="2" />
<text x="407" y="472.3" font-size="16" font-weight="bold" text-anchor="middle" fill="#000" >0</text>
<line x1="422.33" y1="450.2" x2="422.33" y2="453.7" stroke="#000" stroke-width="2" />
<line x1="436.86" y1="450.2" x2="436.86" y2="456.7" stroke="#000" stroke-width="2" />
<text x="436.06" y="472.3" font-size="16" font-weight="bold" text-anchor="middle" fill="#000" >10</text>
<line x1="451.39" y1="450.2" x2="451.39" y2="453.7" stroke="#000" stroke-width="2" />
<line x1="465.93" y1="450.2" x2="465.93" y2="456.7" stroke="#000" stroke-width="2" />
<text x="465.13" y="472.3" font-size="16" font-weight="bold" text-anchor="middle" fill="#000" >20</text>
<line x1="480.46" y1="450.2" x2="480.46" y2="453.7" stroke="#000" stroke-width="2" />
<line x1="494.99" y1="450.2" x2="494.99" y2="456.7" stroke="#000" stroke-width="2" />
<text x="494.19" y="472.3" font-size="16" font-weight="bold" text-anchor="middle" fill="#000" >30</text>
<line x1="509.52" y1="450.2" x2="509.52" y2="453.7" stroke="#000" stroke-width="2" />
<line x1="524.05" y1="450.2" x2="524.05" y2="456.7" stroke="#000" stroke-width="2" />
<text x="523.25" y="472.3" font-size="16" font-weight="bold" text-anchor="middle" fill="#000" >40</text>
<line x1="538.58" y1="450.2" x2="538.58" y2="453.7" stroke="#000" stroke-width="2" />
<line x1="553.12" y1="450.2" x2="553.12" y2="456.7" stroke="#000" stroke-width="2" />
<text x="552.32" y="472.3" font-size="16" font-weight="bold" text-anchor="middle" fill="#000" >50</text>
<line x1="567.65" y1="450.2" x2="567.65" y2="453.7" stroke="#000" stroke-width="2" />
<line x1="582.18" y1="450.2" x2="582.18" y2="456.7" stroke="#000" stroke-width="2" />
<text x="581.38" y="472.3" font-size="16" font-weight="bold" text-anchor="middle" fill="#000" >60</text>
<line x1="596.71" y1="450.2" x2="596.71" y2="453.7" stroke="#000" stroke-width="2" />
<line x1="611.24" y1="450.2" x2="611.24" y2="456.7" stroke="#000" stroke-width="2" />
<text x="610.44" y="472.3" font-size="16" font-weight="bold" text-anchor="middle" fill="#000" >70</text>
<line x1="625.77" y1="450.2" x2="625.77" y2="453.7" stroke="#000" stroke-width="2" />
<line x1="640.31" y1="450.2" x2="640.31" y2="456.7" stroke="#000" stroke-width="2" />
<text x="639.51" y="472.3" font-size="16" font-weight="bold" text-anchor="middle" fill="#000" >80</text>
<line x1="654.84" y1="450.2" x2="654.84" y2="453.7" stroke="#000" stroke-width="2" />
<line x1="669.37" y1="450.2" x2="669.37" y2="456.7" stroke="#000" stroke-width="2" />
<text x="668.57" y="472.3" font-size="16" font-weight="bold" text-anchor="middle" fill="#000" >90</text>
<line x1="683.9" y1="450.2" x2="683.9" y2="453.7" stroke="#000" stroke-width="2" />
<text x="125.5" y="496.5" font-size="17" font-weight="bold" text-anchor="start" fill="#000" >Temperature / °C</text>
<text x="477.8" y="495.5" font-size="17" font-weight="bold" text-anchor="start" fill="#000" >Temperature / °C</text>
<text transform="translate(13.8,327.7) rotate(-90)" font-size="17.5" font-weight="bold">CD @ 260 nm / mdeg</text>
<text transform="translate(371.3,336.3) rotate(-90)" font-size="17.5" font-weight="bold">CD @ 260 nm / mdeg</text>
<text transform="translate(51.3,22.7) scale(0.93,1.09)" font-size="21" font-weight="bold">a</text>
<text transform="translate(63.5,22.7) scale(1,1.08)" font-size="21">)</text>
<text transform="translate(411.9,24.1) scale(1,1.06)" font-size="21" font-weight="bold">b</text>
<text transform="translate(425.6,24.0) scale(1,1.08)" font-size="21">)</text>
<circle cx="66.75" cy="39.4" r="3.9" fill="none" stroke="#000" stroke-width="1.3"/>
<text x="93" y="46.1" font-size="18" font-weight="bold" text-anchor="start" fill="#000" >a-miR-23</text>
<circle cx="422.7" cy="43.9" r="3.9" fill="none" stroke="#f00" stroke-width="1.3"/>
<text x="448.6" y="49.8" font-size="18" font-weight="bold" text-anchor="start" fill="#000" >a-miR-141</text>
<text x="179.1" y="182.8" font-size="16.5" font-weight="bold" text-anchor="start" fill="#000" >T</text>
<text x="188.8" y="189.7" font-size="10" font-weight="normal" text-anchor="start" fill="#000" >m</text>
<text x="202.5" y="182.8" font-size="16.5" font-weight="bold" text-anchor="start" fill="#000" >= 40°C</text>
<text x="560.9" y="183" font-size="16.5" font-weight="bold" text-anchor="start" fill="#000" >T</text>
<text x="570.6" y="189.9" font-size="10" font-weight="normal" text-anchor="start" fill="#000" >m</text>
<text x="584.3" y="183" font-size="16.5" font-weight="bold" text-anchor="start" fill="#000" >= 50°C</text>
</svg>
</body></html>
